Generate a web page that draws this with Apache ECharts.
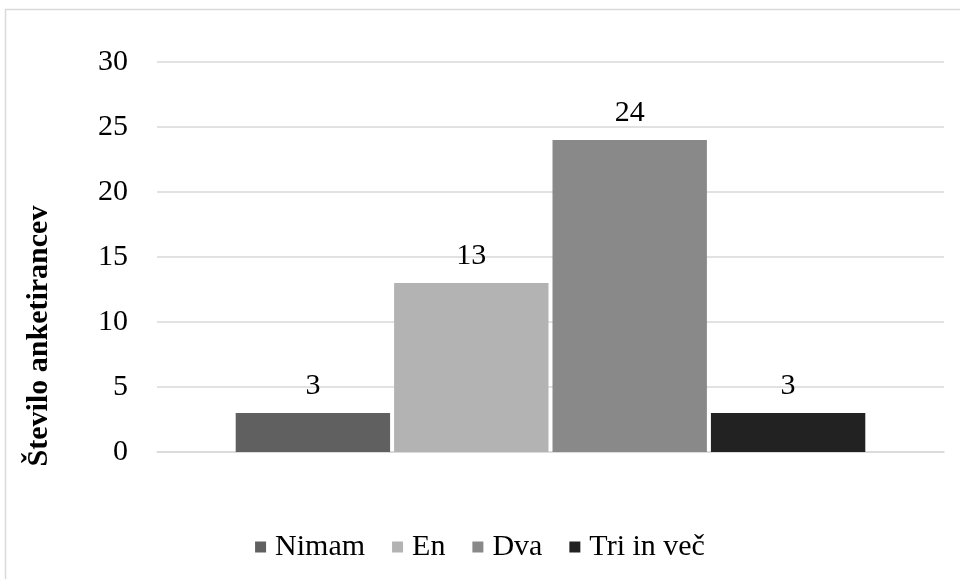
<!DOCTYPE html>
<html><head><meta charset="utf-8">
<script src="https://cdn.jsdelivr.net/npm/echarts@6/dist/echarts.min.js"></script>
<style>html,body{margin:0;padding:0;background:#fff}#c{width:960px;height:579px}</style>
</head><body><div id="c"></div>
<script>
const categories = [''];
const seriesNames = ['Nimam', 'En', 'Dva', 'Tri in več'];
const seriesValues = [[3], [13], [24], [3]];
const yTicks = [0, 5, 10, 15, 20, 25, 30];
const colors = ['#606060', '#b3b3b3', '#898989', '#222222'];
const font = '"Liberation Serif", "Times New Roman", serif';
const fs = 30;

const chart = echarts.init(document.getElementById('c'), null, {renderer: 'canvas'});
chart.setOption({
  animation: false,
  textStyle: {fontFamily: font},
  graphic: [
    {type: 'rect', shape: {x: 5.5, y: 9.5, width: 980, height: 600}, style: {fill: 'none', stroke: '#d9d9d9', lineWidth: 1.5}, silent: true},
    {type: 'text', x: 39, y: 336, rotation: Math.PI / 2, style: {text: 'Število anketirancev', font: 'bold 30px ' + font, fill: '#000', align: 'center', verticalAlign: 'middle'}}
  ],
  grid: {left: 157, right: 16, top: 62, bottom: 127, containLabel: false},
  legend: {
    data: seriesNames, left: 'center', top: 527, itemWidth: 11, itemHeight: 11, itemGap: 27,
    icon: 'rect', textStyle: {fontFamily: font, fontSize: fs, color: '#000', padding: [0, 0, 0, 4]}
  },
  xAxis: {
    type: 'category', data: categories,
    axisLine: {show: true, lineStyle: {color: '#d9d9d9', width: 1.5}},
    axisTick: {show: false}, axisLabel: {show: false}
  },
  yAxis: {
    type: 'value', min: yTicks[0], max: yTicks[yTicks.length - 1], interval: 5,
    axisLine: {show: false}, axisTick: {show: false},
    axisLabel: {fontFamily: font, fontSize: fs, color: '#000', margin: 29},
    splitLine: {lineStyle: {color: '#d9d9d9', width: 1.5}}
  },
  series: seriesNames.map((n, i) => ({
    name: n, type: 'bar', data: seriesValues[i],
    barCategoryGap: '20%', barGap: '2.6%',
    itemStyle: {color: colors[i]},
    label: {show: true, position: 'top', distance: 12, fontFamily: font, fontSize: fs, color: '#000'}
  }))
});
</script></body></html>
